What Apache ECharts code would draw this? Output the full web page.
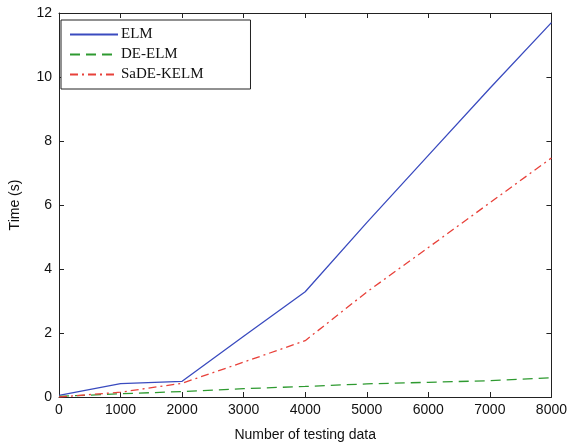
<!DOCTYPE html>
<html><head><meta charset="utf-8">
<script src="https://cdn.jsdelivr.net/npm/echarts@6/dist/echarts.min.js"></script>
<style>html,body{margin:0;padding:0;background:#fff}#c{width:570px;height:447px}</style>
</head><body><div id="c"></div>
<script>
const xValues = [0, 1000, 2000, 3000, 4000, 5000, 6000, 7000, 8000];
const elm = [0.05, 0.42, 0.49, 1.9, 3.29, 5.45, 7.55, 9.65, 11.7];
const deElm = [0.02, 0.1, 0.17, 0.26, 0.33, 0.41, 0.46, 0.51, 0.6];
const sadeKelm = [0.0, 0.15, 0.43, 1.09, 1.76, 3.28, 4.67, 6.07, 7.47];
const seriesNames = ['ELM', 'DE-ELM', 'SaDE-KELM'];

const pair = (ys) => xValues.map((x, i) => [x, ys[i]]);
const tickFont = {color: '#111', fontSize: 14, fontFamily: 'Liberation Sans, Arial, sans-serif'};
const axLine = {show: true, onZero: false, lineStyle: {color: '#222', width: 1}};
const axTick = {show: true, inside: true, length: 5, lineStyle: {color: '#222'}};

const chart = echarts.init(document.getElementById('c'));
chart.setOption({
  animation: false,
  grid: {left: 53, right: 16, top: 13, bottom: 43},
  legend: {
    orient: 'vertical', left: 61, top: 20,
    padding: [7, 47, 7, 8], itemGap: 5, itemWidth: 48, itemHeight: 14,
    borderColor: '#222', borderWidth: 1, backgroundColor: '#fff',
    itemStyle: {opacity: 0},
    textStyle: {fontFamily: 'Liberation Serif, Times New Roman, serif', fontSize: 15, color: '#111', padding: [0,0,0,-2]},
    data: seriesNames
  },
  xAxis: [{
    type: 'value', min: 0, max: 8000, interval: 1000,
    name: 'Number of testing data', nameLocation: 'middle', nameGap: 31,
    nameTextStyle: tickFont,
    axisLine: axLine, axisTick: axTick, splitLine: {show: false},
    axisLabel: Object.assign({margin: 6, formatter: (v) => String(v)}, tickFont)
  }, {
    type: 'value', position: 'top', min: 0, max: 8000, interval: 1000,
    axisLine: axLine, axisTick: axTick, splitLine: {show: false}, axisLabel: {show: false}
  }],
  yAxis: [{
    type: 'value', min: 0, max: 12, interval: 2,
    name: 'Time (s)', nameLocation: 'middle', nameGap: 37,
    nameTextStyle: tickFont,
    axisLine: axLine, axisTick: axTick, splitLine: {show: false},
    axisLabel: Object.assign({margin: 7}, tickFont)
  }, {
    type: 'value', position: 'right', min: 0, max: 12, interval: 2,
    axisLine: axLine, axisTick: axTick, splitLine: {show: false}, axisLabel: {show: false}
  }],
  series: [
    {name: seriesNames[0], type: 'line', data: pair(elm), symbol: 'none', color: '#3a4bbf',
     lineStyle: {width: 1.3, type: 'solid'}},
    {name: seriesNames[1], type: 'line', data: pair(deElm), symbol: 'none', color: '#2e9a30',
     lineStyle: {width: 1.3, type: [10, 6]}},
    {name: seriesNames[2], type: 'line', data: pair(sadeKelm), symbol: 'none', color: '#e8413a',
     lineStyle: {width: 1.3, type: [8, 4, 2, 4]}}
  ]
});
</script></body></html>
